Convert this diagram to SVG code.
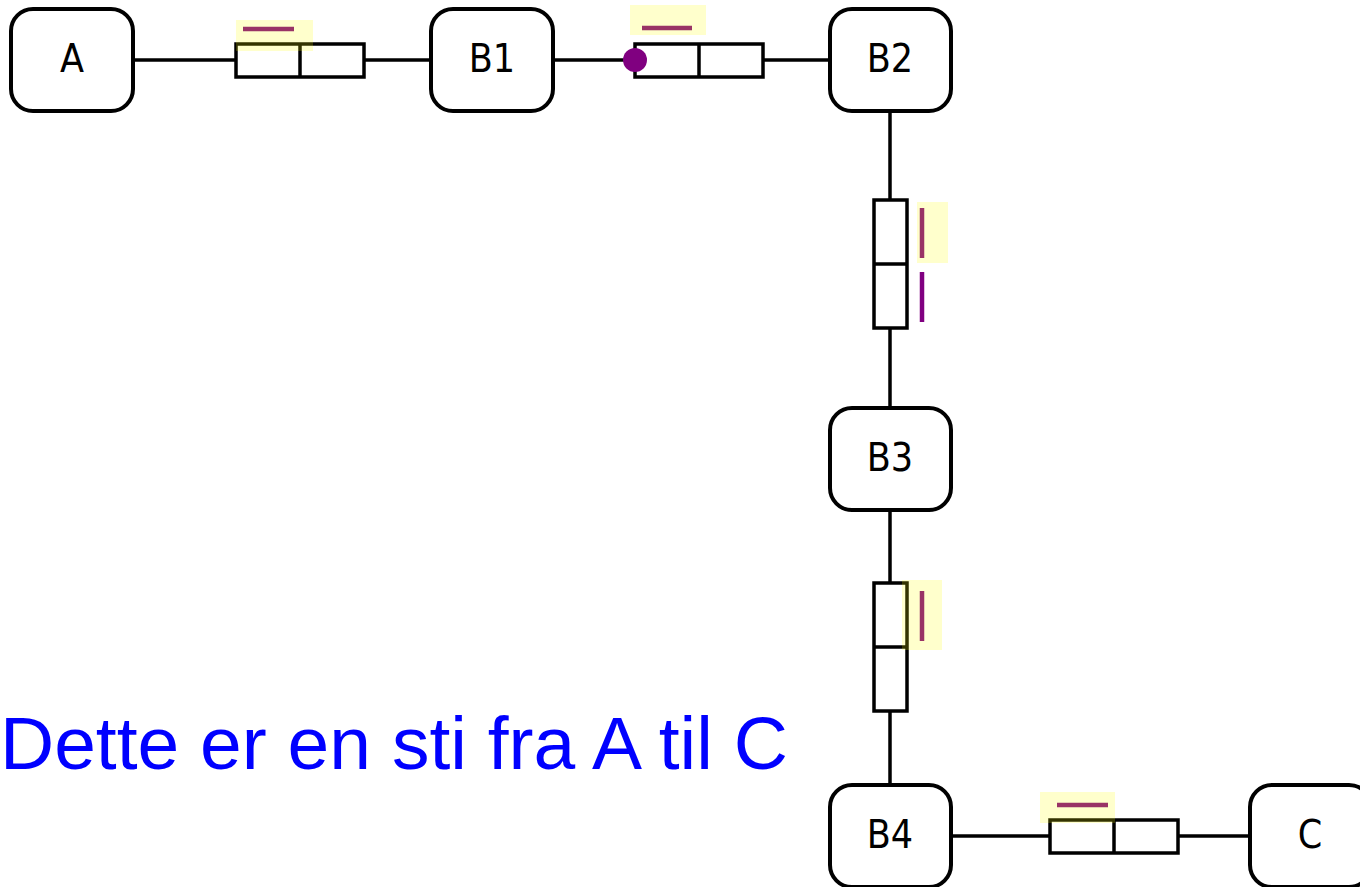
<svg xmlns="http://www.w3.org/2000/svg" width="1360" height="887" viewBox="0 0 1360 887">
<style>
.node rect{fill:#fff;stroke:#000;stroke-width:4}
.node text{font-family:"DejaVu Sans Condensed","DejaVu Sans",sans-serif;font-size:39px;fill:#000;text-anchor:middle}
.wire{stroke:#000;stroke-width:3.5;fill:none}
.box{fill:#fff;stroke:#000;stroke-width:3.5}
.mark{stroke:#800080;stroke-width:4.5;stroke-linecap:butt}
.hl{fill:#ffff00;fill-opacity:0.2}
.title{font-family:"Liberation Sans",Arial,sans-serif;font-size:75px;fill:#0000ff}
</style>
<rect width="1360" height="887" fill="#fff"/>
<g id="connectors">
  <!-- A - B1 -->
  <line class="wire" x1="133" y1="60" x2="236" y2="60"/>
  <rect class="box" x="236" y="44" width="128" height="33"/>
  <line class="wire" x1="300" y1="44" x2="300" y2="77"/>
  <line class="wire" x1="364" y1="60" x2="431" y2="60"/>
  <line class="mark" x1="243" y1="29" x2="294" y2="29"/>
  <rect class="hl" x="236" y="20" width="77" height="31"/>
  <!-- B1 - B2 -->
  <line class="wire" x1="553" y1="60" x2="635" y2="60"/>
  <rect class="box" x="635" y="44" width="128" height="33"/>
  <line class="wire" x1="699" y1="44" x2="699" y2="77"/>
  <line class="wire" x1="763" y1="60" x2="830" y2="60"/>
  <circle cx="635" cy="60" r="12" fill="#800080"/>
  <line class="mark" x1="642" y1="28" x2="692" y2="28"/>
  <rect class="hl" x="630" y="5" width="76" height="30"/>
  <!-- B2 - B3 -->
  <line class="wire" x1="890" y1="111" x2="890" y2="200"/>
  <rect class="box" x="874" y="200" width="33" height="128"/>
  <line class="wire" x1="874" y1="264" x2="907" y2="264"/>
  <line class="wire" x1="890" y1="328" x2="890" y2="408"/>
  <line class="mark" x1="922" y1="208" x2="922" y2="258"/>
  <rect class="hl" x="917" y="202" width="31" height="61"/>
  <line class="mark" x1="922" y1="272" x2="922" y2="322"/>
  <!-- B3 - B4 -->
  <line class="wire" x1="890" y1="510" x2="890" y2="583"/>
  <rect class="box" x="874" y="583" width="33" height="128"/>
  <line class="wire" x1="874" y1="647" x2="907" y2="647"/>
  <line class="wire" x1="890" y1="711" x2="890" y2="785"/>
  <line class="mark" x1="922" y1="591" x2="922" y2="641"/>
  <rect class="hl" x="902" y="580" width="40" height="70"/>
  <!-- B4 - C -->
  <line class="wire" x1="951" y1="836" x2="1050" y2="836"/>
  <rect class="box" x="1050" y="820" width="128" height="33"/>
  <line class="wire" x1="1114" y1="820" x2="1114" y2="853"/>
  <line class="wire" x1="1178" y1="836" x2="1250" y2="836"/>
  <line class="mark" x1="1057" y1="805" x2="1108" y2="805"/>
  <rect class="hl" x="1040" y="792" width="75" height="31"/>
</g>
<g id="node-A" class="node"><rect x="11" y="9" width="122" height="102" rx="22"/><text x="72" y="72">A</text></g>
<g id="node-B1" class="node"><rect x="431" y="9" width="122" height="102" rx="22"/><text x="492" y="72">B1</text></g>
<g id="node-B2" class="node"><rect x="830" y="9" width="121" height="102" rx="22"/><text x="890" y="72">B2</text></g>
<g id="node-B3" class="node"><rect x="830" y="408" width="121" height="102" rx="22"/><text x="890" y="471">B3</text></g>
<g id="node-B4" class="node"><rect x="830" y="785" width="121" height="102" rx="22"/><text x="890" y="848">B4</text></g>
<g id="node-C" class="node"><rect x="1250" y="785" width="121" height="102" rx="22"/><text x="1310" y="848">C</text></g>
<text class="title" x="0" y="769">Dette er en sti fra A til C</text>
</svg>
